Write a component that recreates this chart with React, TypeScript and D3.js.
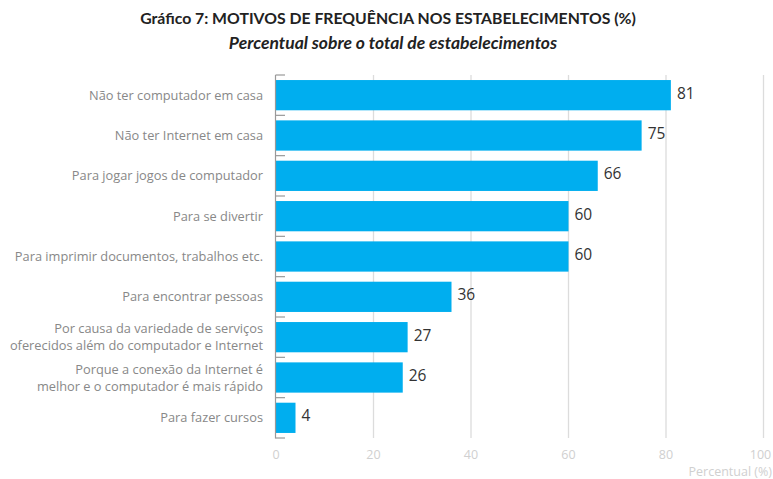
import React from "react";
import * as d3 from "d3";

const categories = [
  "Não ter computador em casa",
  "Não ter Internet em casa",
  "Para jogar jogos de computador",
  "Para se divertir",
  "Para imprimir documentos, trabalhos etc.",
  "Para encontrar pessoas",
  "Por causa da variedade de serviços\noferecidos além do computador e Internet",
  "Porque a conexão da Internet é\nmelhor e o computador é mais rápido",
  "Para fazer cursos",
];
const values = [81, 75, 66, 60, 60, 36, 27, 26, 4];
const xTicks = [0, 20, 40, 60, 80, 100];
const title = "Gráfico 7: MOTIVOS DE FREQUÊNCIA NOS ESTABELECIMENTOS (%)";
const subtitle = "Percentual sobre o total de estabelecimentos";
const axisTitle = "Percentual (%)";

export default function App() {
  const W = 773, H = 479;
  const x = d3.scaleLinear().domain([0, 100]).range([276, 763.5]);
  const y = d3.scaleBand().domain(categories).range([75, 438]).paddingInner(0.25).paddingOuter(0.125);
  const step = y.step();
  const font = "'Open Sans', sans-serif";
  return (
    <svg width={W} height={H} style={{ position: "absolute", left: 0, top: 0 }}>
      <rect width={W} height={H} fill="#fff" />
      <text x={388} y={24} textAnchor="middle" fontFamily="Lato, sans-serif" fontWeight={700} fontSize={15.8} fill="#222">{title}</text>
      <text x={393} y={49} textAnchor="middle" fontFamily="Lato, sans-serif" fontWeight={700} fontStyle="italic" fontSize={17.5} fill="#222">{subtitle}</text>
      {xTicks.slice(1).map((t) => (
        <line key={t} x1={x(t)} x2={x(t)} y1={75} y2={438} stroke="#dcdcdc" strokeWidth={1.3} />
      ))}
      {categories.map((c, i) => (
        <rect key={c} x={x(0)} y={y(c)} width={x(values[i]) - x(0)} height={y.bandwidth()} fill="#00aeef" />
      ))}
      <line x1={275.5} x2={275.5} y1={75} y2={438.5} stroke="#999" strokeWidth={1.2} />
      {d3.range(categories.length + 1).map((i) => (
        <line key={i} x1={275.5} x2={285} y1={75 + i * step} y2={75 + i * step} stroke="#999" strokeWidth={1.2} />
      ))}
      {categories.map((c, i) => {
        const lines = c.split("\n");
        const cy = (y(c) as number) + y.bandwidth() / 2;
        return (
          <text key={c} x={263} textAnchor="end" fontFamily={font} fontSize={12.8} fill="#888">
            {lines.map((l, j) => (
              <tspan key={j} x={263} y={cy + 4.5 + (j - (lines.length - 1) / 2) * 17}>{l}</tspan>
            ))}
          </text>
        );
      })}
      {categories.map((c, i) => (
        <text key={c} x={x(values[i]) + 6} y={(y(c) as number) + y.bandwidth() / 2 + 3.5} fontFamily={font} fontSize={15.5} fill="#333">{values[i]}</text>
      ))}
      {xTicks.map((t) => (
        <text key={t} x={x(t) + (t === 100 ? -3 : 0)} y={459} textAnchor="middle" fontFamily={font} fontSize={12.5} fill="#d0d0d0">{t}</text>
      ))}
      <text x={772} y={476} textAnchor="end" fontFamily={font} fontSize={12.5} fill="#d0d0d0">{axisTitle}</text>
    </svg>
  );
}
